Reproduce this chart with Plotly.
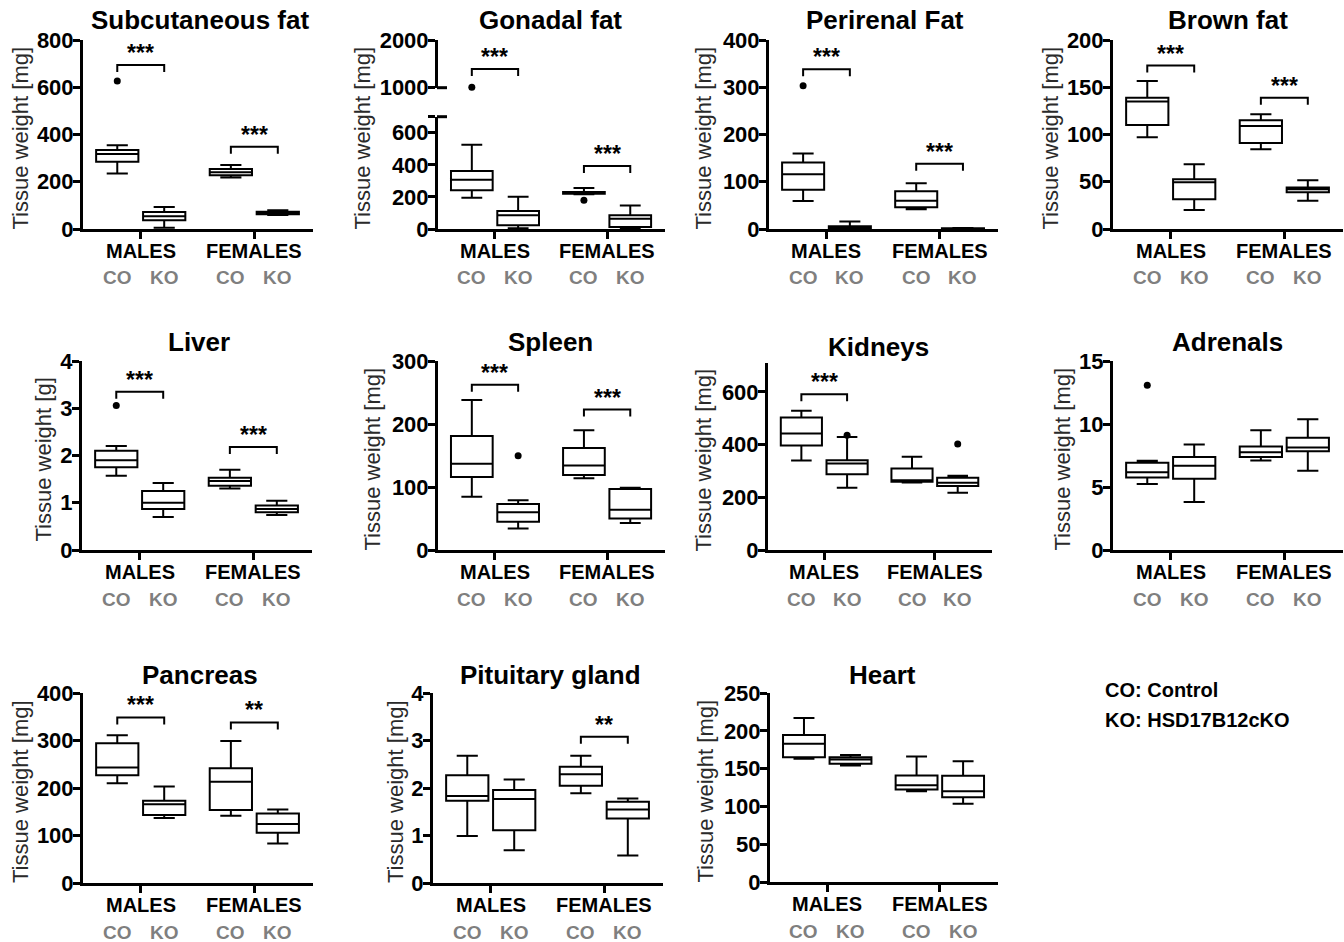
import plotly.graph_objects as go

W, H = 1344, 942

# ---------------- data ----------------
box_positions = [0.0, 1.0, 2.42, 3.42]
group_tick_positions = [0.5, 2.92]
group_labels = ["MALES", "FEMALES"]
genotype_labels = ["CO", "KO", "CO", "KO"]
legend_lines = ["CO: Control", "KO: HSD17B12cKO"]

# (lower whisker, Q1, median, Q3, upper whisker) for [Males CO, Males KO, Females CO, Females KO]
subcutaneous = [(235, 285, 317, 334, 355), (5, 37, 54, 72, 93), (218, 228, 240, 254, 271), (59, 62, 68, 73, 79)]
subcutaneous_outliers = [(0, 626)]
subcutaneous_sig = [("***", 0, 694), ("***", 2, 348)]

gonadal = [(195, 241, 307, 361, 525), (5, 23, 85, 112, 201), (216, 220, 224, 230, 255), (6, 12, 64, 85, 147)]
gonadal_outliers = [(0, 1010), (2, 179)]
gonadal_sig = [("***", 0, 1392), ("***", 2, 392)]

perirenal = [(59, 83, 116, 141, 160), (0, 1.5, 4, 6, 16), (42, 46, 60, 80, 97), (0.3, 0.8, 1, 1.5, 2)]
perirenal_outliers = [(0, 303)]
perirenal_sig = [("***", 0, 338), ("***", 2, 138)]

brown = [(97, 110, 135, 139, 156.5), (20, 31.4, 49.5, 52.6, 68.5), (84.5, 91, 109, 115, 121.5), (30, 39, 42, 44, 51.6)]
brown_outliers = []
brown_sig = [("***", 0, 173), ("***", 2, 139)]

liver = [(1.57, 1.75, 1.9, 2.1, 2.2), (0.70, 0.87, 1.0, 1.25, 1.42), (1.30, 1.36, 1.46, 1.53, 1.70), (0.74, 0.80, 0.87, 0.94, 1.04)]
liver_outliers = [(0, 3.06)]
liver_sig = [("***", 0, 3.35), ("***", 2, 2.18)]

spleen = [(84.5, 116, 137, 181, 238), (34, 45, 60, 73, 79), (114, 119, 134, 162, 190), (43, 50, 64, 97, 99)]
spleen_outliers = [(1, 149.5)]
spleen_sig = [("***", 0, 262.5), ("***", 2, 223)]

kidneys = [(340, 397, 442, 503, 529), (236, 288, 328, 341, 429), (256, 259, 265, 309, 354), (217, 243, 255, 274, 282)]
kidneys_outliers = [(1, 436), (3, 402)]
kidneys_sig = [("***", 0, 591)]

adrenals = [(5.23, 5.76, 6.18, 6.92, 7.08), (3.80, 5.65, 6.68, 7.39, 8.37), (7.10, 7.39, 7.76, 8.21, 9.51), (6.28, 7.84, 8.13, 8.90, 10.38)]
adrenals_outliers = [(0, 13.07)]
adrenals_sig = []

pancreas = [(210, 227, 243, 294, 311), (137, 143, 166, 173, 203), (141.5, 153.5, 213, 241.5, 299), (83, 105.6, 124, 146.5, 155)]
pancreas_outliers = []
pancreas_sig = [("***", 0, 348.6), ("**", 2, 338)]

pituitary = [(0.99, 1.73, 1.83, 2.27, 2.68), (0.69, 1.11, 1.77, 1.96, 2.18), (1.89, 2.05, 2.29, 2.45, 2.68), (0.58, 1.36, 1.55, 1.71, 1.78)]
pituitary_outliers = []
pituitary_sig = [("**", 2, 3.08)]

heart = [(163, 165, 183, 194.5, 217), (154, 156.5, 162, 165, 168), (120, 122.5, 128, 141, 166), (103.6, 112, 120, 140.6, 159.6)]
heart_outliers = []
heart_sig = []

# ---------------- layout geometry (pixels) ----------------
panels = [
    dict(title="Subcutaneous fat", ytitle="Tissue weight [mg]", boxes=subcutaneous, outliers=subcutaneous_outliers, sig=subcutaneous_sig,
         left=83, right=313, top=40, bottom=229, yrange=[0, 800], yticks=[0, 200, 400, 600, 800], title_xy=(200, 20), ytitle_x=20),
    dict(title="Gonadal fat", ytitle="Tissue weight [mg]", boxes=gonadal, outliers=gonadal_outliers, sig=gonadal_sig,
         left=438, right=665, top=116.7, bottom=229, yrange=[0, 700], yticks=[0, 200, 400, 600], title_xy=(550, 20), ytitle_x=362,
         broken=dict(top=40, bottom=87.7, yrange=[1000, 2000], yticks=[1000, 2000])),
    dict(title="Perirenal Fat", ytitle="Tissue weight [mg]", boxes=perirenal, outliers=perirenal_outliers, sig=perirenal_sig,
         left=769, right=998, top=40, bottom=229, yrange=[0, 400], yticks=[0, 100, 200, 300, 400], title_xy=(885, 20), ytitle_x=703),
    dict(title="Brown fat", ytitle="Tissue weight [mg]", boxes=brown, outliers=brown_outliers, sig=brown_sig,
         left=1113, right=1343, top=40, bottom=229, yrange=[0, 200], yticks=[0, 50, 100, 150, 200], title_xy=(1228, 20), ytitle_x=1050),
    dict(title="Liver", ytitle="Tissue weight [g]", boxes=liver, outliers=liver_outliers, sig=liver_sig,
         left=82, right=312, top=361, bottom=550, yrange=[0, 4], yticks=[0, 1, 2, 3, 4], title_xy=(199, 342), ytitle_x=43),
    dict(title="Spleen", ytitle="Tissue weight [mg]", boxes=spleen, outliers=spleen_outliers, sig=spleen_sig,
         left=438, right=665, top=361, bottom=550, yrange=[0, 300], yticks=[0, 100, 200, 300], title_xy=(550, 342), ytitle_x=372),
    dict(title="Kidneys", ytitle="Tissue weight [mg]", boxes=kidneys, outliers=kidneys_outliers, sig=kidneys_sig,
         left=768, right=992, top=363, bottom=550, yrange=[0, 710], yticks=[0, 200, 400, 600], title_xy=(878, 347), ytitle_x=703),
    dict(title="Adrenals", ytitle="Tissue weight [mg]", boxes=adrenals, outliers=adrenals_outliers, sig=adrenals_sig,
         left=1113, right=1343, top=361, bottom=550, yrange=[0, 15], yticks=[0, 5, 10, 15], title_xy=(1227, 342), ytitle_x=1062),
    dict(title="Pancreas", ytitle="Tissue weight [mg]", boxes=pancreas, outliers=pancreas_outliers, sig=pancreas_sig,
         left=83, right=313, top=693, bottom=883, yrange=[0, 400], yticks=[0, 100, 200, 300, 400], title_xy=(200, 675), ytitle_x=20),
    dict(title="Pituitary gland", ytitle="Tissue weight [mg]", boxes=pituitary, outliers=pituitary_outliers, sig=pituitary_sig,
         left=433, right=663, top=693, bottom=883, yrange=[0, 4], yticks=[0, 1, 2, 3, 4], title_xy=(550, 675), ytitle_x=395),
    dict(title="Heart", ytitle="Tissue weight [mg]", boxes=heart, outliers=heart_outliers, sig=heart_sig,
         left=770, right=998, top=693, bottom=882, yrange=[0, 250], yticks=[0, 50, 100, 150, 200, 250], title_xy=(882, 675), ytitle_x=705),
]

FONT = "Arial, Liberation Sans, Helvetica, sans-serif"
XRANGE = [-0.73, 4.17]
BLACK = "black"
GRAY = "#7f7f7f"


def px(x):
    return x / W


def py(y):
    return 1 - y / H


fig = go.Figure()
annotations = []
shapes = []
layout = {}

axis_counter = 0


def new_axes():
    global axis_counter
    axis_counter += 1
    n = axis_counter
    return n, ("x" if n == 1 else f"x{n}"), ("y" if n == 1 else f"y{n}"), ("xaxis" if n == 1 else f"xaxis{n}"), ("yaxis" if n == 1 else f"yaxis{n}")


def yaxis_style(domain, yrange, ticks, anchor, labels=None):
    d = dict(domain=domain, range=yrange, showline=True, linecolor=BLACK, linewidth=3,
             ticks="outside", ticklen=7, tickwidth=3, tickcolor=BLACK, ticklabelstandoff=-5,
             tickvals=ticks, tickfont=dict(family=FONT, size=22, color=BLACK, weight="bold"),
             showgrid=False, zeroline=False, fixedrange=True, anchor=anchor, automargin=False)
    if labels is not None:
        d["ticktext"] = labels
    return d


for p in panels:
    n, xr, yr, xk, yk = new_axes()
    xdom = [px(p["left"]), px(p["right"])]
    layout[xk] = dict(domain=xdom, range=XRANGE, showline=True, linecolor=BLACK, linewidth=3,
                      ticks="outside", ticklen=7, tickwidth=3, tickcolor=BLACK,
                      tickvals=group_tick_positions, showticklabels=False,
                      showgrid=False, zeroline=False, fixedrange=True, anchor=yr, automargin=False)
    layout[yk] = yaxis_style([py(p["bottom"]), py(p["top"])], p["yrange"], p["yticks"], xr)

    upper = None
    if "broken" in p:
        b = p["broken"]
        n2, xr2, yr2, xk2, yk2 = new_axes()
        layout[xk2] = dict(domain=xdom, range=XRANGE, visible=False, fixedrange=True, anchor=yr2, automargin=False)
        layout[yk2] = yaxis_style([py(b["bottom"]), py(b["top"])], b["yrange"], b["yticks"], xr2)
        upper = (xr2, yr2, b)
        # unlabelled tick capping the lower segment
        layout[yk]["tickvals"] = p["yticks"] + [p["yrange"][1]]
        layout[yk]["ticktext"] = [str(v) for v in p["yticks"]] + [""]
        # break marks extending right of the axis
        for ypix in (b["bottom"], p["top"]):
            shapes.append(dict(type="line", xref="paper", yref="paper",
                               x0=px(p["left"] - 1), x1=px(p["left"] + 9), y0=py(ypix), y1=py(ypix),
                               line=dict(color=BLACK, width=3)))

    boxes = p["boxes"]
    fig.add_trace(go.Box(
        x=box_positions,
        lowerfence=[s[0] for s in boxes], q1=[s[1] for s in boxes], median=[s[2] for s in boxes],
        q3=[s[3] for s in boxes], upperfence=[s[4] for s in boxes],
        width=0.9, whiskerwidth=0.5, fillcolor="white", line=dict(color=BLACK, width=2),
        boxpoints=False, showlegend=False, hoverinfo="skip", xaxis=xr, yaxis=yr))

    # outliers
    for idx, val in p["outliers"]:
        if upper is not None and val >= upper[2]["yrange"][0]:
            ax, ay = upper[0], upper[1]
        else:
            ax, ay = xr, yr
        fig.add_trace(go.Scatter(x=[box_positions[idx]], y=[val], mode="markers",
                                 marker=dict(color=BLACK, size=7), showlegend=False,
                                 hoverinfo="skip", cliponaxis=False, xaxis=ax, yaxis=ay))

    # significance brackets
    for text, idx, yv in p["sig"]:
        if upper is not None and yv >= upper[2]["yrange"][0]:
            ax, ay = upper[0], upper[1]
            rng = upper[2]["yrange"]
            hpx = upper[2]["bottom"] - upper[2]["top"]
        else:
            ax, ay = xr, yr
            rng = p["yrange"]
            hpx = p["bottom"] - p["top"]
        drop = 7 * (rng[1] - rng[0]) / hpx
        xa, xb = box_positions[idx], box_positions[idx + 1]
        fig.add_trace(go.Scatter(x=[xa, xa, xb, xb], y=[yv - drop, yv, yv, yv - drop], mode="lines",
                                 line=dict(color=BLACK, width=2), showlegend=False,
                                 hoverinfo="skip", cliponaxis=False, xaxis=ax, yaxis=ay))
        annotations.append(dict(x=(xa + xb) / 2, y=yv, xref=ax, yref=ay, text=text, showarrow=False,
                                yanchor="bottom", xanchor="center", yshift=-3,
                                font=dict(family=FONT, size=23, color=BLACK, weight="bold")))

    # group labels under the x ticks
    for pos, lab in zip(group_tick_positions, group_labels):
        annotations.append(dict(x=pos, y=py(p["bottom"] + 22), xref=xr, yref="paper", text=lab,
                                showarrow=False, xanchor="center", yanchor="middle",
                                font=dict(family=FONT, size=20, color=BLACK, weight="bold")))

    # genotype labels under each box
    for pos, lab in zip(box_positions, genotype_labels):
        annotations.append(dict(x=pos, y=py(p["bottom"] + 49), xref=xr, yref="paper", text=lab,
                                showarrow=False, xanchor="center", yanchor="middle",
                                font=dict(family=FONT, size=19, color=GRAY, weight="bold")))

    # panel title
    tx, ty = p["title_xy"]
    annotations.append(dict(x=px(tx), y=py(ty), xref="paper", yref="paper", text=p["title"], showarrow=False,
                            xanchor="center", yanchor="middle",
                            font=dict(family=FONT, size=26, color=BLACK, weight="bold")))

    # y-axis title
    ytop = p["broken"]["top"] if "broken" in p else p["top"]
    annotations.append(dict(x=px(p["ytitle_x"]), y=py((ytop + p["bottom"]) / 2 + 4), xref="paper", yref="paper",
                            text=p["ytitle"], showarrow=False, textangle=-90, xanchor="center", yanchor="middle",
                            font=dict(family=FONT, size=22, color="#2a2a2a")))

# key
for i, line in enumerate(legend_lines):
    annotations.append(dict(x=px(1103), y=py(690 + 30 * i), xref="paper", yref="paper", text=line,
                            showarrow=False, xanchor="left", yanchor="middle",
                            font=dict(family=FONT, size=20, color=BLACK, weight="bold")))

fig.update_layout(
    template="none",
    width=W, height=H, margin=dict(l=0, r=0, t=0, b=0, autoexpand=False),
    paper_bgcolor="white", plot_bgcolor="white",
    showlegend=False, boxmode="overlay",
    annotations=annotations, shapes=shapes,
    **layout,
)

fig.write_html("out.html", config={"displayModeBar": False},
               post_script="document.body.style.margin='0px';document.body.style.overflow='hidden';")
